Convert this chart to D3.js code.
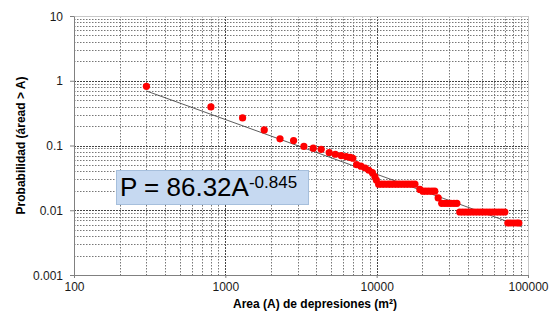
<!DOCTYPE html>
<html>
<head>
<meta charset="utf-8">
<script src="https://cdn.jsdelivr.net/npm/d3@7"></script>
<style>
  html, body { margin: 0; padding: 0; background: #fff; }
  svg { display: block; font-family: "Liberation Sans", Arial, sans-serif; }
</style>
</head>
<body>
<svg id="chart" width="555" height="320"></svg>
<script>
// ---- data ----
const areas = [301, 803, 1300, 1808, 2297, 2825, 3305, 3810, 4300, 4855, 5330, 5830, 6290, 6700, 6960,
  7370, 7870, 8400, 8880, 9370, 9730, 9950,
  10300, 10800, 11300, 11900, 12400, 13000, 13600, 14200, 14900, 15600, 16300, 17100, 17900,
  19300, 20200, 21100, 22100, 23200, 24200, 25500,
  26900, 28200, 29500, 30900, 32400, 33900,
  35400, 37100, 38800, 40600, 42500, 44500, 46600, 48800, 51100, 53500, 56000, 58600, 61300, 64200, 67200, 70300,
  73600, 77000, 80600, 84400, 87000];
const probs = [0.82, 0.394, 0.267, 0.174, 0.127, 0.119, 0.0966, 0.091, 0.0873, 0.078, 0.0732, 0.070, 0.0675, 0.0654, 0.0636,
  0.0505, 0.0479, 0.0449, 0.0415, 0.038, 0.033, 0.0292,
  0.0253, 0.0253, 0.0253, 0.0253, 0.0253, 0.0253, 0.0253, 0.0253, 0.0253, 0.0253, 0.0253, 0.0253, 0.0253,
  0.021, 0.0197, 0.0197, 0.0197, 0.0197, 0.0197, 0.0155,
  0.0128, 0.0128, 0.0128, 0.0128, 0.0128, 0.0128,
  0.0094, 0.0094, 0.0094, 0.0094, 0.0094, 0.0094, 0.0094, 0.0094, 0.0094, 0.0094, 0.0094, 0.0094, 0.0094, 0.0094, 0.0094, 0.0094,
  0.00635, 0.00635, 0.00635, 0.00635, 0.00635];
const fitCoef = 86.32;
const fitExp = -0.845;
const fitRange = [300, 90000];
const xTicks = [100, 1000, 10000, 100000];
const xTickLabels = ["100", "1000", "10000", "100000"];
const yTicks = [0.001, 0.01, 0.1, 1, 10];
const yTickLabels = ["0.001", "0.01", "0.1", "1", "10"];
const xTitle = "Area (A) de depresiones (m²)";
const yTitle = "Probabilidad (áread > A)";

// ---- layout ----
const svg = d3.select("#chart");
const L = 74, R = 528, T = 16, B = 275;
const x = d3.scaleLog().domain([100, 100000]).range([L, R]);
const y = d3.scaleLog().domain([0.001, 10]).range([B, T]);

// minor + major grid
const xGrid = [];
for (let d = 100; d < 100000; d *= 10) for (let k = 1; k <= 9; k++) xGrid.push({ v: d * k, major: k === 1 });
const yGrid = [];
for (let d = 0.001; d < 10 - 1e-9; d *= 10) for (let k = 1; k <= 9; k++) yGrid.push({ v: d * k, major: k === 1 });

const grid = svg.append("g");
grid.selectAll("line.gx").data(xGrid.filter(g => g.v > 100.5)).join("line")
  .attr("x1", d => Math.round(x(d.v)) + 0.5).attr("x2", d => Math.round(x(d.v)) + 0.5)
  .attr("y1", T).attr("y2", B)
  .attr("stroke", d => d.major ? "#444" : "#777").attr("stroke-width", 1)
  .attr("stroke-dasharray", d => d.major ? "2,1" : "1.5,1.5");
grid.selectAll("line.gy").data(yGrid.filter(g => g.v > 0.00105)).join("line")
  .attr("y1", d => Math.round(y(d.v)) + 0.5).attr("y2", d => Math.round(y(d.v)) + 0.5)
  .attr("x1", L).attr("x2", R)
  .attr("stroke", d => d.major ? "#444" : "#777").attr("stroke-width", 1)
  .attr("stroke-dasharray", d => d.major ? "2,1" : "1.5,1.5");

// border top/right
svg.append("line").attr("x1", L).attr("x2", R).attr("y1", T + 0.5).attr("y2", T + 0.5).attr("stroke", "#c8c8c8");
svg.append("line").attr("x1", R + 0.5).attr("x2", R + 0.5).attr("y1", T).attr("y2", B).attr("stroke", "#c8c8c8");

// axes
const xAxis = d3.axisBottom(x).tickValues(xTicks).tickFormat((d, i) => xTickLabels[i]).tickSize(3).tickSizeOuter(0);
const yAxis = d3.axisLeft(y).tickValues(yTicks).tickFormat((d, i) => yTickLabels[i]).tickSize(4).tickSizeOuter(0);
const gx = svg.append("g").attr("transform", `translate(0,${B})`).call(xAxis);
const gy = svg.append("g").attr("transform", `translate(${L},0)`).call(yAxis);
[gx, gy].forEach(g => {
  g.select(".domain").attr("stroke", "#808080");
  g.selectAll(".tick line").attr("stroke", "#808080");
  g.selectAll(".tick text").attr("font-family", "Liberation Sans, Arial, sans-serif")
    .attr("font-size", 12).attr("fill", "#1a1a1a");
});
gx.selectAll(".tick text").attr("dy", null).attr("y", 16);
gy.selectAll(".tick text").attr("x", -11).attr("dy", "0.35em");

// fit line
const fit = d => fitCoef * Math.pow(d, fitExp);
svg.append("line")
  .attr("x1", x(fitRange[0])).attr("y1", y(fit(fitRange[0])))
  .attr("x2", x(fitRange[1])).attr("y2", y(fit(fitRange[1])))
  .attr("stroke", "#333").attr("stroke-width", 0.8);

// points
const pts = areas.map((a, i) => ({ a, p: probs[i] }));
svg.append("g").selectAll("circle").data(pts).join("circle")
  .attr("cx", d => x(d.a)).attr("cy", d => y(d.p)).attr("r", 3.6)
  .attr("fill", "#ff0000");

// equation box
svg.append("rect").attr("x", 116.5).attr("y", 170.5).attr("width", 192).attr("height", 34)
  .attr("fill", "#c6d9f1").attr("stroke", "#a6bfdc").attr("stroke-width", 1);
const eq = svg.append("text").attr("x", 120).attr("y", 196).attr("fill", "#000");
eq.append("tspan").attr("font-size", 26).text("P = 86.32A");
eq.append("tspan").attr("font-size", 17).attr("dy", -8).text("-0.845");

// titles
svg.append("text").attr("x", 315).attr("y", 308).attr("text-anchor", "middle")
  .attr("font-size", 12).attr("font-weight", "bold").attr("fill", "#000").text(xTitle);
svg.append("text").attr("transform", `translate(24.5,${(T + B) / 2}) rotate(-90)`).attr("text-anchor", "middle")
  .attr("font-size", 12).attr("font-weight", "bold").attr("fill", "#000").text(yTitle);
</script>
</body>
</html>
